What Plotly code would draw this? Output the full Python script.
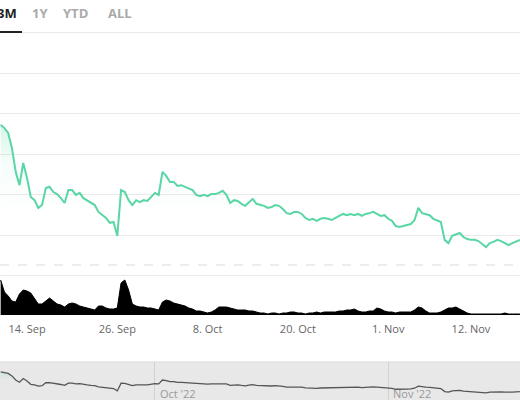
import pandas as pd
import plotly.graph_objects as go

# ---------------- data ----------------
dates = pd.date_range("2022-09-10 12:00", periods=139, freq="12h")

price = [3.72, 3.64, 3.52, 3.15, 2.56, 2.23, 2.78, 2.41, 1.94, 1.86,
         1.67, 1.74, 2.16, 2.19, 2.06, 2.01, 1.91, 1.79, 2.11, 2.11,
         1.99, 2.04, 1.91, 1.86, 1.79, 1.74, 1.57, 1.49, 1.42, 1.30,
         1.32, 0.98, 2.11, 2.06, 1.86, 1.74, 1.86, 1.81, 1.86, 1.84,
         1.94, 2.04, 1.99, 2.56, 2.46, 2.31, 2.31, 2.21, 2.23, 2.19,
         2.16, 2.11, 1.99, 1.96, 1.99, 1.96, 2.01, 2.01, 2.04, 2.09,
         1.99, 1.79, 1.86, 1.84, 1.77, 1.72, 1.81, 1.89, 1.77, 1.74,
         1.72, 1.67, 1.69, 1.74, 1.72, 1.64, 1.54, 1.52, 1.57, 1.57,
         1.52, 1.42, 1.37, 1.40, 1.35, 1.40, 1.42, 1.40, 1.37, 1.42,
         1.47, 1.52, 1.49, 1.52, 1.49, 1.52, 1.47, 1.52, 1.54, 1.57,
         1.52, 1.47, 1.49, 1.40, 1.35, 1.22, 1.20, 1.22, 1.25, 1.27,
         1.37, 1.67, 1.54, 1.52, 1.49, 1.40, 1.35, 1.32, 0.88, 0.80,
         0.98, 1.02, 1.05, 0.95, 0.90, 0.88, 0.88, 0.85, 0.78, 0.70,
         0.80, 0.83, 0.88, 0.85, 0.80, 0.75, 0.80, 0.85, 0.88]

volume = [35, 23, 19, 14, 13, 21, 25, 24, 22, 16,
          11, 11, 14, 17, 14, 11, 10, 8, 11, 12,
          11, 9, 8, 7, 6, 5, 9, 9, 7, 6,
          6, 7, 32, 35, 25, 11, 9, 8, 8, 7,
          7, 6, 5, 13, 15, 14, 12, 11, 10, 9,
          7, 6, 4, 4, 3, 2, 3, 5, 8, 8,
          8, 7, 6, 5, 5, 5, 4, 4, 3, 2,
          2, 1, 2, 2, 1, 2, 2, 3, 3, 2,
          2, 1, 2, 2, 3, 2, 3, 3, 3, 3,
          4, 4, 5, 5, 6, 4, 3, 3, 4, 4,
          7, 6, 4, 3, 3, 2, 3, 3, 3, 3,
          5, 8, 7, 4, 2, 2, 2, 3, 5, 7,
          7, 8, 6, 4, 2, 1, 1, 1, 1, 1,
          1, 1, 1, 1, 2, 1, 1, 1, 1]

tick_dates = ["2022-09-14", "2022-09-26", "2022-10-08", "2022-10-20", "2022-11-01", "2022-11-12"]
tick_labels = ["14. Sep", "26. Sep", "8. Oct", "20. Oct", "1. Nov", "12. Nov"]
nav_dates = ["2022-10-01", "2022-11-01"]
nav_labels = ["Oct '22", "Nov '22"]
tabs = ["3M", "1Y", "YTD", "ALL"]
reference_level = 0.26

x_range = ["2022-09-10 09:53", "2022-11-18 12:22"]

# ---------------- style ----------------
GREEN = "rgb(88,214,164)"
FONT = "Open Sans"

fig = go.Figure()

fig.add_trace(go.Scatter(
    x=dates, y=price, xaxis="x", yaxis="y", mode="lines",
    line=dict(color=GREEN, width=2),
    fill="tozeroy",
    fillgradient=dict(type="vertical", start=1.5, stop=4.0,
                      colorscale=[[0, "rgba(88,214,164,0)"],
                                  [0.5, "rgba(88,214,164,0.05)"],
                                  [1, "rgba(88,214,164,0.3)"]]),
    hoverinfo="skip", showlegend=False))

fig.add_trace(go.Scatter(
    x=dates, y=volume, xaxis="x", yaxis="y2", mode="lines",
    line=dict(color="black", width=1),
    fill="tozeroy", fillcolor="black",
    hoverinfo="skip", showlegend=False))

fig.add_trace(go.Scatter(
    x=dates, y=price, xaxis="x2", yaxis="y3", mode="lines",
    line=dict(color="#555555", width=1.3),
    fill="tozeroy",
    fillgradient=dict(type="vertical", start=2.5, stop=5.0,
                      colorscale=[[0, "rgba(88,214,164,0)"],
                                  [1, "rgba(88,214,164,0.45)"]]),
    hoverinfo="skip", showlegend=False))

shapes = [
    dict(type="rect", xref="paper", yref="paper", x0=0, x1=1, y0=0, y1=0.095,
         fillcolor="#e8e8e8", line=dict(width=0), layer="below"),
    dict(type="line", xref="paper", yref="paper", x0=0, x1=1, y0=0.095, y1=0.095,
         line=dict(color="#d9d9d9", width=1), layer="below"),
    dict(type="line", xref="paper", yref="y", x0=0, x1=1,
         y0=reference_level, y1=reference_level,
         line=dict(color="#dcdcdc", width=1, dash="dash"), layer="below"),
    dict(type="line", xref="paper", yref="paper", x0=0, x1=22 / 520,
         y0=1 - 32 / 400, y1=1 - 32 / 400,
         line=dict(color="#222222", width=2)),
]

annotations = []
tab_pos = [(19, "right"), (30, "left"), (61, "left"), (106, "left")]
for t, (px, anchor) in zip(tabs, tab_pos):
    annotations.append(dict(
        text=f"<b>{t}</b>", xref="paper", yref="paper",
        x=px / 520, y=1 - 13 / 400, xanchor=anchor, yanchor="middle",
        showarrow=False,
        font=dict(family=FONT, size=13, color="#222222" if t == "3M" else "#aaaaaa")))

for d, lab in zip(nav_dates, nav_labels):
    annotations.append(dict(
        text=lab, xref="x2", yref="paper", x=d, y=1 - 393 / 400,
        xanchor="left", yanchor="middle", xshift=3, showarrow=False,
        font=dict(family=FONT, size=11, color="#999999")))

fig.update_layout(
    width=520, height=400,
    margin=dict(l=0, r=0, t=0, b=0),
    paper_bgcolor="white", plot_bgcolor="rgba(0,0,0,0)",
    showlegend=False,
    xaxis=dict(domain=[0, 1], range=x_range, anchor="y2",
               tickmode="array", tickvals=tick_dates, ticktext=tick_labels,
               showgrid=False, showline=False, zeroline=False,
               ticks="outside", ticklen=4, tickcolor="rgba(0,0,0,0)",
               tickfont=dict(family=FONT, size=11, color="#666666")),
    yaxis=dict(domain=[0.3, 0.925], range=[-0.1111, 6.0617], anchor="x",
               tick0=0, dtick=1, showgrid=True, gridcolor="#e9e9e9", gridwidth=1,
               zeroline=True, zerolinecolor="#e9e9e9", zerolinewidth=1,
               showticklabels=False, ticks=""),
    yaxis2=dict(domain=[0.2125, 0.3125], range=[0, 40], anchor="x",
                showgrid=False, zeroline=False, showticklabels=False, ticks=""),
    xaxis2=dict(domain=[0, 1], range=x_range, anchor="y3",
                tickmode="array", tickvals=nav_dates,
                showgrid=True, gridcolor="#d2d2d2", gridwidth=1,
                showticklabels=False, ticks="", zeroline=False, showline=False),
    yaxis3=dict(domain=[0, 0.095], range=[-0.334, 5.163], anchor="x2",
                showgrid=False, zeroline=False, showticklabels=False, ticks=""),
    shapes=shapes,
    annotations=annotations,
)

fig.write_html("out.html", config={"displayModeBar": False},
               post_script="document.body.style.margin='0';document.body.style.overflow='hidden';")
